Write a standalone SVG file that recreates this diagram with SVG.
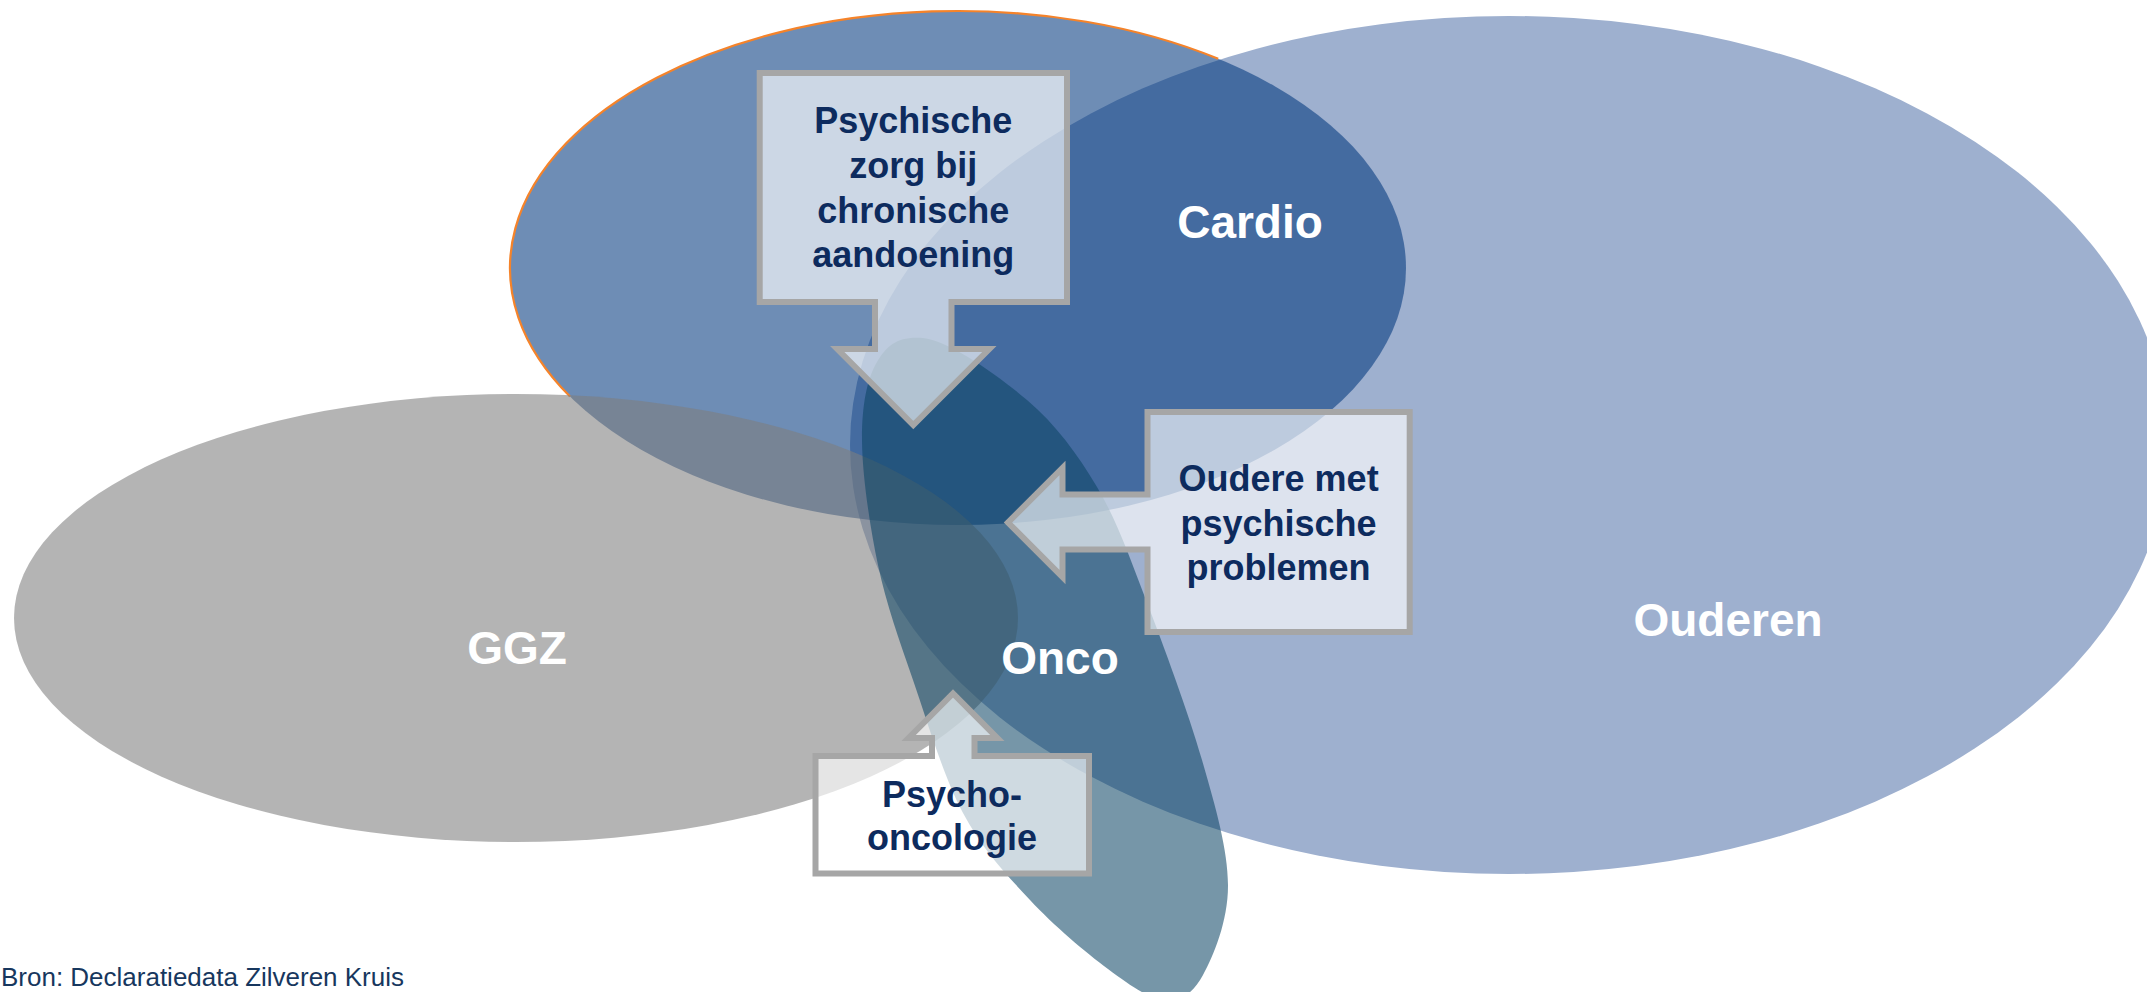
<svg xmlns="http://www.w3.org/2000/svg" width="2147" height="992" viewBox="0 0 2147 992">
  <style>
    .lbl { font-family: "Liberation Sans", Arial, sans-serif; font-weight: bold; font-size: 46px; fill: #ffffff; text-anchor: middle; }
    .call { fill: #ffffff; fill-opacity: 0.65; stroke: #a6a6a6; stroke-width: 6; stroke-linejoin: miter; }
    .ct { font-family: "Liberation Sans", Arial, sans-serif; font-weight: bold; font-size: 36px; fill: #0d2b5e; text-anchor: middle; }
    .src { font-family: "Liberation Sans", Arial, sans-serif; font-size: 25px; fill: #17375e; }
  </style>

  <rect width="2147" height="992" fill="#ffffff"/>

  <!-- sets, back to front -->
  <g id="ouderen">
    <ellipse cx="1509" cy="445" rx="659" ry="429" fill="#9eb0cf"/>
    <text class="lbl" x="1728" y="636">Ouderen</text>
  </g>

  <g id="cardio">
    <ellipse cx="958" cy="268" rx="448" ry="257" fill="#00377d" fill-opacity="0.57"/>
    <path d="M570,396.5 A448,257 0 0 1 1218.2,58.8" fill="none" stroke="#f5832a" stroke-width="2.2"/>
    <text class="lbl" x="1250" y="238">Cardio</text>
  </g>

  <g id="ggz">
    <ellipse cx="516" cy="618" rx="502" ry="224" fill="#7e7e7e" fill-opacity="0.58"/>
    <text class="lbl" x="517" y="664">GGZ</text>
  </g>

  <g id="onco">
    <path d="M923,338 C948,340 998,375.2 1027,400 C1056,424.8 1077.2,453.7 1097,487 C1116.8,520.3 1128.5,554.5 1146,600 C1163.5,645.5 1188.3,712.5 1202,760 C1215.7,807.5 1227.8,849.2 1228,885 C1228.2,920.8 1213.5,955.8 1203,975 C1192.5,994.2 1180.8,1001 1165,1000 C1149.2,999 1130.5,985.7 1108,969 C1085.5,952.3 1054.2,926 1030,900 C1005.8,874 982.5,849.7 963,813 C943.5,776.3 927.2,721.3 913,680 C898.8,638.7 886.5,605 878,565 C869.5,525 862.2,473.8 862,440 C861.8,406.2 866.8,379 877,362 C887.2,345 898,336 923,338 Z" fill="#0a4464" fill-opacity="0.56"/>
    <text class="lbl" x="1060" y="674">Onco</text>
  </g>

  <!-- arrow callouts -->
  <g id="callout-chronisch">
    <path class="call" d="M759.7,73 H1067 V302 H951.5 V349 H989.3 L913.3,425 L837.3,349 H875 V302 H759.7 Z"/>
    <text class="ct" x="913.3" y="133">Psychische</text>
    <text class="ct" x="913.3" y="177.5">zorg bij</text>
    <text class="ct" x="913.3" y="222.5">chronische</text>
    <text class="ct" x="913.3" y="267">aandoening</text>
  </g>

  <g id="callout-ouderen">
    <path class="call" d="M1147.5,412 H1409.7 V632 H1147.5 V549.5 H1062.5 V577 L1008,522.5 L1062.5,468 V494.5 H1147.5 Z"/>
    <text class="ct" x="1278.6" y="491">Oudere met</text>
    <text class="ct" x="1278.6" y="535.5">psychische</text>
    <text class="ct" x="1278.6" y="580">problemen</text>
  </g>

  <g id="callout-onco">
    <path class="call" d="M815.5,756 H932 V738 H908.7 L953,693.5 L997.3,738 H974.5 V756 H1089 V873.5 H815.5 Z"/>
    <text class="ct" x="952" y="806.5">Psycho-</text>
    <text class="ct" x="952" y="850">oncologie</text>
  </g>

  <text class="src" x="1" y="986" textLength="403" lengthAdjust="spacingAndGlyphs">Bron: Declaratiedata Zilveren Kruis</text>
</svg>
